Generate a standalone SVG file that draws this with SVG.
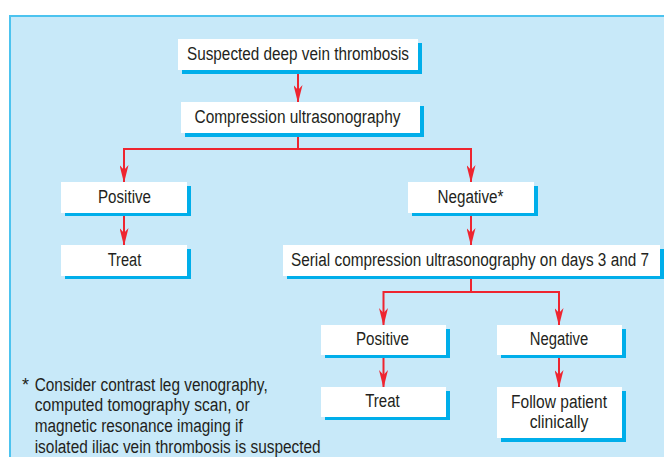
<svg xmlns="http://www.w3.org/2000/svg" width="664" height="457" viewBox="0 0 664 457">
<defs>
<style>
.bg{fill:#c8e9f9;stroke:#4cc3ef;stroke-width:2}
.sh{fill:#00aeea}
.bx{fill:#ffffff}
.t{font-family:"Liberation Sans Narrow","Liberation Sans",Arial,sans-serif;font-size:18px;fill:#231f20;text-anchor:middle}
.fn{font-family:"Liberation Sans Narrow","Liberation Sans",Arial,sans-serif;font-size:18px;fill:#231f20}
.c{fill:none;stroke:#ee2530;stroke-width:2}
</style>
<marker id="ah" viewBox="0 0 18 9" refX="17" refY="4.5" markerWidth="18" markerHeight="9" markerUnits="userSpaceOnUse" orient="auto">
<path d="M0,0 L18,4.5 L0,9 L5,4.5 Z" fill="#ee2530"/>
</marker>
</defs>
<rect width="664" height="457" fill="#ffffff"/>
<rect class="bg" x="10" y="16" width="700" height="500"/>
<g id="connectors">
<path class="c" d="M298,70 V102" marker-end="url(#ah)"/>
<path class="c" d="M298,133 V149 H124 V182" marker-end="url(#ah)"/>
<path class="c" d="M298,149 H471 V182" marker-end="url(#ah)"/>
<path class="c" d="M124,213 V245" marker-end="url(#ah)"/>
<path class="c" d="M471,213 V245" marker-end="url(#ah)"/>
<path class="c" d="M471,276 V292 H383.5 V325" marker-end="url(#ah)"/>
<path class="c" d="M471,292 H559 V325" marker-end="url(#ah)"/>
<path class="c" d="M383.5,355 V387" marker-end="url(#ah)"/>
<path class="c" d="M559,355 V387" marker-end="url(#ah)"/>
</g>
<g id="n-suspected">
<rect class="sh" x="182" y="43" width="240" height="31"/>
<rect class="bx" x="178" y="39" width="240" height="31"/>
<text class="t" x="298" y="59.5" textLength="222" lengthAdjust="spacingAndGlyphs">Suspected deep vein thrombosis</text>
</g>
<g id="n-cus">
<rect class="sh" x="185" y="106" width="239" height="31"/>
<rect class="bx" x="181" y="102" width="239" height="31"/>
<text class="t" x="297.5" y="122.5" textLength="206" lengthAdjust="spacingAndGlyphs">Compression ultrasonography</text>
</g>
<g id="n-positive1">
<rect class="sh" x="65" y="186" width="126" height="30"/>
<rect class="bx" x="61" y="182" width="126" height="31"/>
<text class="t" x="124.5" y="202.5" textLength="53" lengthAdjust="spacingAndGlyphs">Positive</text>
</g>
<g id="n-negative1">
<rect class="sh" x="412" y="186" width="126" height="30"/>
<rect class="bx" x="408" y="182" width="126" height="31"/>
<text class="t" x="470.5" y="202.5" textLength="66" lengthAdjust="spacingAndGlyphs">Negative*</text>
</g>
<g id="n-treat1">
<rect class="sh" x="65" y="249" width="126" height="30"/>
<rect class="bx" x="61" y="245" width="126" height="31"/>
<text class="t" x="124.5" y="265.5" textLength="33.5" lengthAdjust="spacingAndGlyphs">Treat</text>
</g>
<g id="n-serial">
<rect class="sh" x="287" y="249" width="377" height="30"/>
<rect class="bx" x="283" y="245" width="377" height="31"/>
<text class="t" x="470" y="265.5" textLength="358" lengthAdjust="spacingAndGlyphs">Serial compression ultrasonography on days 3 and 7</text>
</g>
<g id="n-positive2">
<rect class="sh" x="325" y="329" width="125" height="29"/>
<rect class="bx" x="321" y="325" width="125" height="30"/>
<text class="t" x="382.5" y="345" textLength="53" lengthAdjust="spacingAndGlyphs">Positive</text>
</g>
<g id="n-negative2">
<rect class="sh" x="501" y="329" width="125" height="29"/>
<rect class="bx" x="497" y="325" width="125" height="30"/>
<text class="t" x="559" y="345" textLength="58.5" lengthAdjust="spacingAndGlyphs">Negative</text>
</g>
<g id="n-treat2">
<rect class="sh" x="325" y="391" width="125" height="29"/>
<rect class="bx" x="321" y="387" width="125" height="30"/>
<text class="t" x="382.5" y="407" textLength="34.5" lengthAdjust="spacingAndGlyphs">Treat</text>
</g>
<g id="n-follow">
<rect class="sh" x="501" y="391" width="125" height="51"/>
<rect class="bx" x="497" y="387" width="125" height="51"/>
<text class="t" x="559" y="408.3" textLength="96" lengthAdjust="spacingAndGlyphs">Follow patient</text>
<text class="t" x="559" y="427.7" textLength="58.5" lengthAdjust="spacingAndGlyphs">clinically</text>
</g>
<g id="footnote">
<text class="fn" x="22" y="390.7">*</text>
<text class="fn" x="34.7" y="390.7" textLength="233" lengthAdjust="spacingAndGlyphs">Consider contrast leg venography,</text>
<text class="fn" x="34.7" y="411.4" textLength="215" lengthAdjust="spacingAndGlyphs">computed tomography scan, or</text>
<text class="fn" x="34.7" y="432" textLength="208" lengthAdjust="spacingAndGlyphs">magnetic resonance imaging if</text>
<text class="fn" x="34.7" y="452.6" textLength="286" lengthAdjust="spacingAndGlyphs">isolated iliac vein thrombosis is suspected</text>
</g>
</svg>
